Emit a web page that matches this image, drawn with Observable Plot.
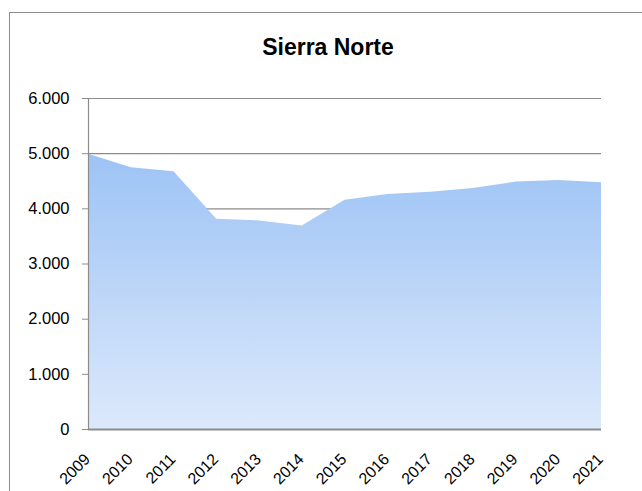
<!DOCTYPE html>
<html>
<head>
<meta charset="utf-8">
<script src="https://cdn.jsdelivr.net/npm/d3@7"></script>
<script src="https://cdn.jsdelivr.net/npm/@observablehq/plot@0.6"></script>
<style>
  html, body { margin: 0; padding: 0; background: #fff; }
  body { width: 642px; height: 491px; position: relative; overflow: hidden; font-family: "Liberation Sans", Arial, sans-serif; }
  #frame { position: absolute; left: 9px; top: 12px; width: 660px; height: 520px; border: 1px solid #8c8c8c; box-sizing: border-box; }
  #title { position: absolute; left: 0; width: 100%; top: 34px; text-align: center; font-size: 23px; font-weight: bold; color: #000; padding-left: 14px; box-sizing: border-box; }
  #chart { position: absolute; left: 0; top: 0; }
</style>
</head>
<body>
<div id="frame"></div>
<div id="title">Sierra Norte</div>
<div id="chart"></div>
<script>
const years = [2009, 2010, 2011, 2012, 2013, 2014, 2015, 2016, 2017, 2018, 2019, 2020, 2021];
const values = [4990, 4745, 4670, 3810, 3780, 3690, 4155, 4260, 4300, 4370, 4485, 4515, 4475];
const yTicks = [0, 1000, 2000, 3000, 4000, 5000, 6000];

const data = years.map((y, i) => ({year: y, value: values[i]}));
const fmt = d => d3.format(",")(d).replace(/,/g, ".");

const plot = Plot.plot({
  width: 642,
  height: 491,
  marginLeft: 88,
  marginRight: 41,
  marginTop: 98,
  marginBottom: 62,
  style: {fontFamily: '"Liberation Sans", Arial, sans-serif', fontSize: "16px", color: "#000", background: "transparent"},
  x: {type: "linear", domain: [2009, 2021]},
  y: {domain: [0, 6000]},
  marks: [
    Plot.ruleY(yTicks.filter(d => d > 0), {stroke: "#8c8c8c", strokeWidth: 1.2, strokeOpacity: 1}),
    Plot.areaY(data, {x: "year", y: "value", fill: "url(#areaGrad)"}),
    Plot.ruleX([2009], {stroke: "#8c8c8c", strokeWidth: 1.2}),
    Plot.ruleY([0], {stroke: "#8c8c8c", strokeWidth: 2}),
    Plot.axisY({ticks: yTicks, tickFormat: fmt, tickSize: 6, tickPadding: 13, stroke: "#8c8c8c", fill: "#000", fontSize: 16.5, label: null}),
    Plot.axisX({ticks: years, tickFormat: d => String(d), tickSize: 0, tickPadding: 6, tickRotate: -45, fill: "#000", fontSize: 16, label: null, dx: -1, dy: 21})
  ]
});

const defs = document.createElementNS("http://www.w3.org/2000/svg", "defs");
defs.innerHTML = `<linearGradient id="areaGrad" x1="0" y1="0" x2="0" y2="1">
  <stop offset="0" stop-color="#9dc3f5"/>
  <stop offset="1" stop-color="#dce9fb"/>
</linearGradient>`;
plot.insertBefore(defs, plot.firstChild);
document.getElementById("chart").appendChild(plot);
</script>
</body>
</html>
